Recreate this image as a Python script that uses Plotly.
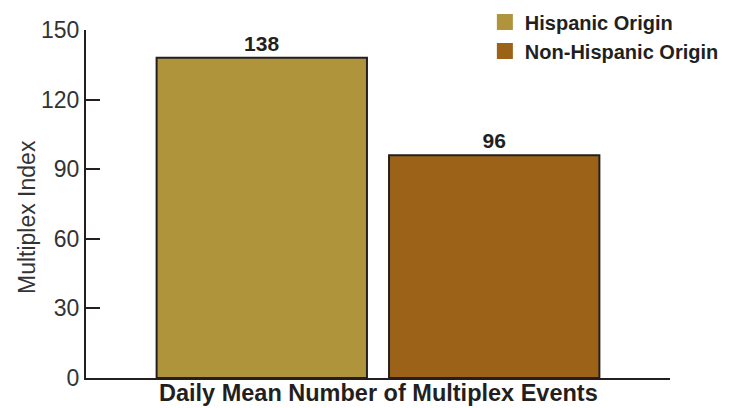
import plotly.graph_objects as go

category = ["Daily Mean Number of Multiplex Events"]
series_names = ["Hispanic Origin", "Non-Hispanic Origin"]
series_values = [[138], [96]]
colors = ["#b0943c", "#9c6318"]
y_ticks = [0, 30, 60, 90, 120, 150]
y_title = "Multiplex Index"

BOLD = "Liberation Sans, Arial, sans-serif"
REG = "Liberation Sans, Arial, sans-serif"
INK = "#231f20"

fig = go.Figure()
for name, vals, col in zip(series_names, series_values, colors):
    fig.add_trace(go.Bar(
        x=category, y=vals, name=name, showlegend=False,
        marker=dict(color=col, line=dict(color=INK, width=2)),
        text=vals, texttemplate="%{y}", textposition="outside",
        textfont=dict(family=BOLD, size=21, color=INK, weight="bold"),
        cliponaxis=False,
    ))
# legend entries
for name, col in zip(series_names, colors):
    fig.add_trace(go.Scatter(
        x=[None], y=[None], mode="markers", name=name,
        marker=dict(symbol="square", size=19, color=col),
    ))

fig.update_layout(
    width=732, height=408,
    margin=dict(l=86, r=62, t=30, b=30, autoexpand=False),
    paper_bgcolor="white", plot_bgcolor="white",
    barmode="group", bargap=0.204, bargroupgap=0.095,
    showlegend=True,
    legend=dict(x=0.683, xanchor="left", y=1.079, yanchor="top",
                font=dict(family=BOLD, size=20, color=INK, weight="bold"),
                tracegroupgap=0, itemwidth=30, bgcolor="rgba(0,0,0,0)"),
    xaxis=dict(type="category", showline=True, linecolor=INK, linewidth=2,
               ticks="inside", tickson="boundaries", ticklen=7, tickwidth=2,
               tickcolor=INK, showgrid=False, zeroline=False,
               showticklabels=False),
    yaxis=dict(range=[0, 150], tickvals=y_ticks, showline=True, linecolor=INK,
               linewidth=2, ticks="inside", ticklen=14, tickwidth=2,
               tickcolor=INK, showgrid=False, zeroline=False,
               tickfont=dict(family=REG, size=23, color="#333333")),
    annotations=[
        dict(text=y_title, textangle=-90, xref="paper", yref="paper",
             x=-0.101, y=0.4626, xanchor="center", yanchor="middle",
             showarrow=False,
             font=dict(family=REG, size=23, color="#333333")),
        dict(text=category[0], xref="x", yref="paper",
             x=category[0], y=-0.001, xanchor="center", yanchor="top",
             showarrow=False,
             font=dict(family=BOLD, size=23.5, color=INK, weight="bold")),
    ],
)

fig.write_html("out.html")
